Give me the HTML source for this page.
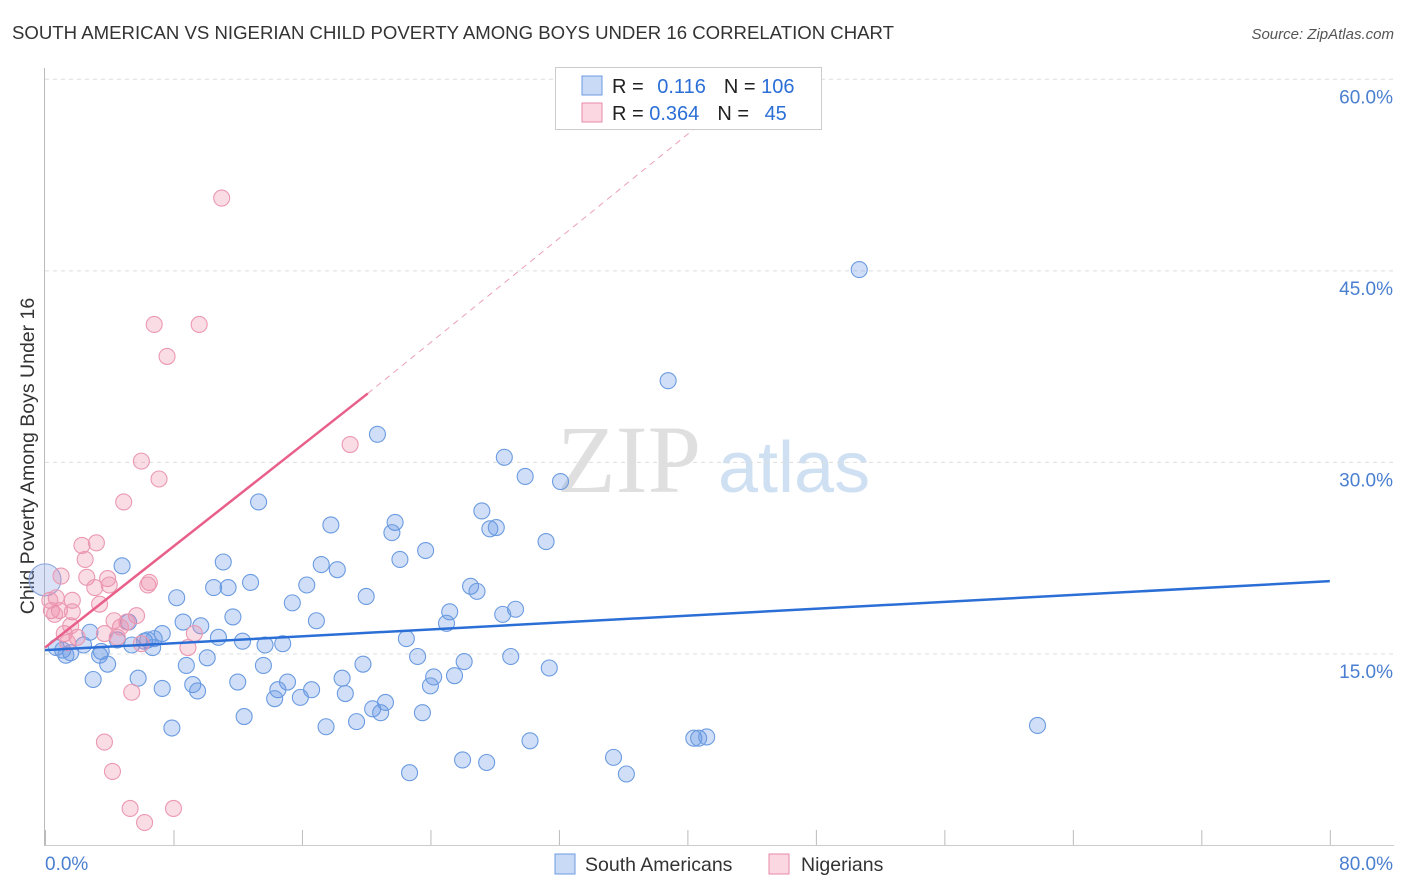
<!DOCTYPE html>
<html><head><meta charset="utf-8"><style>
body{margin:0;background:#fff;font-family:"Liberation Sans",sans-serif;}
#wrap{position:relative;width:1406px;height:892px;overflow:hidden;}
</style></head><body>
<div id="wrap">
<svg id="svg" width="1406" height="892" xmlns="http://www.w3.org/2000/svg">
<text x="12" y="39" font-size="18.6" fill="#333">SOUTH AMERICAN VS NIGERIAN CHILD POVERTY AMONG BOYS UNDER 16 CORRELATION CHART</text>
<text x="1394" y="39" font-size="15" fill="#555" font-style="italic" text-anchor="end">Source: ZipAtlas.com</text>
<text transform="translate(34,456) rotate(-90)" font-size="19.5" fill="#333" text-anchor="middle">Child Poverty Among Boys Under 16</text>
<g>
<text x="557" y="492" font-size="96" font-family="Liberation Serif,serif" fill="#dfdfdf">ZIP</text>
<text x="718" y="492" font-size="72" fill="#cfe0f3">atlas</text>
</g>
<g id="grid"></g><g id="axes"></g><g id="pts"></g><g id="lines"></g>
<g>
<rect x="555.5" y="67.5" width="266" height="62" fill="#fff" stroke="#ccc"/>
<rect x="582" y="76" width="20" height="19" fill="rgba(100,150,230,0.35)" stroke="#6b9be0"/>
<rect x="582" y="103" width="20" height="19" fill="rgba(240,140,170,0.35)" stroke="#e98aa8"/>
<text x="612" y="93" font-size="20" fill="#222">R = <tspan fill="#2b6fd6" dx="8">0.116</tspan><tspan dx="18" fill="#222">N = </tspan><tspan fill="#2b6fd6">106</tspan></text>
<text x="612" y="120" font-size="20" fill="#222">R = <tspan fill="#2b6fd6">0.364</tspan><tspan dx="18" fill="#222">N = </tspan><tspan fill="#2b6fd6" dx="10">45</tspan></text>
</g>
<g>
<rect x="555" y="854" width="20" height="20" fill="rgba(100,150,230,0.35)" stroke="#6b9be0"/>
<text x="585" y="871" font-size="19.5" fill="#333">South Americans</text>
<rect x="769" y="854" width="20" height="20" fill="rgba(240,140,170,0.35)" stroke="#e98aa8"/>
<text x="801" y="871" font-size="19.5" fill="#333">Nigerians</text>
</g>
</svg></div>
<script>
const blueX=[50.7,38.8,20.7,28.6,29.9,32.1,13.3,27.2,17.8,21.8,21.6,27.7,28.1,31.2,23.7,4.8,11.1,17.2,22.1,18.2,12.8,10.5,11.4,16.3,26.5,26.9,20.0,8.2,15.4,29.3,25.2,28.5,11.7,8.6,16.9,25.0,5.2,9.7,2.8,7.3,10.8,6.2,6.8,12.3,14.8,22.5,4.5,6.4,5.4,6.7,3.5,13.7,2.4,0.7,1.1,1.6,1.3,3.4,10.1,23.2,8.8,3.9,19.8,26.1,13.6,25.5,29.0,31.4,18.5,24.2,3.0,5.8,12.0,15.1,24.0,7.3,9.2,9.5,14.5,16.6,18.7,14.3,15.9,21.2,20.4,20.9,23.5,12.4,19.4,17.5,7.9,30.2,40.4,40.7,41.2,61.8,35.4,26.0,27.5,22.7,36.2];
const blueY=[45.1,36.4,32.2,30.4,28.9,28.5,26.9,26.2,25.1,25.3,24.5,24.8,24.9,23.8,23.1,21.9,22.2,22.0,22.4,21.6,20.6,20.2,20.2,20.4,20.3,19.9,19.5,19.4,19.0,18.5,18.3,18.1,17.9,17.5,17.6,17.4,17.5,17.2,16.7,16.6,16.3,16.0,16.2,16.0,15.8,16.2,16.1,16.1,15.7,15.5,15.2,15.7,15.7,15.5,15.3,15.1,14.9,14.9,14.7,14.8,14.1,14.2,14.2,14.4,14.1,13.3,14.8,13.9,13.1,13.2,13.0,13.1,12.8,12.8,12.5,12.3,12.6,12.1,12.2,12.2,11.9,11.5,11.6,11.2,10.7,10.4,10.4,10.1,9.7,9.3,9.2,8.2,8.4,8.4,8.5,9.4,6.9,6.7,6.5,5.7,5.6];
const pinkX=[11.0,6.8,9.6,7.6,19.0,6.0,7.1,4.9,2.3,3.2,2.5,1.0,3.9,6.5,6.4,2.6,3.1,4.0,1.7,3.4,0.7,0.3,0.4,0.9,1.7,5.7,5.1,4.3,4.7,1.6,1.2,9.3,2.0,3.7,4.5,1.4,6.0,8.9,5.4,3.7,4.2,5.3,8.0,6.2,0.6];
const pinkY=[50.7,40.8,40.8,38.3,31.4,30.1,28.7,26.9,23.5,23.7,22.4,21.1,20.9,20.6,20.4,21.0,20.2,20.4,19.2,18.9,19.4,19.2,18.4,18.4,18.3,18.0,17.5,17.6,17.1,17.2,16.6,16.6,16.3,16.6,16.3,15.9,15.8,15.5,12.0,8.1,5.8,2.9,2.9,1.8,18.1];
const bigBlue=[0.0,20.8];
const blueTrend=[[0,15.3],[80,20.7]];
const pinkTrend=[[0,15.5],[20.1,35.4]];
const pinkDash=[[20.1,35.4],[40.8,56.5]];
const yTicks=[15,30,45,60];
const yTickLabels=["15.0%","30.0%","45.0%","60.0%"];
const xTicks=[0,8,16,24,32,40,48,56,64,72,80];
const X=v=>45+v*16.06, Y=v=>845.5-v*12.77;
const NS="http://www.w3.org/2000/svg";
function mk(tag,attrs,parent){const e=document.createElementNS(NS,tag);for(const k in attrs)e.setAttribute(k,attrs[k]);document.getElementById(parent).appendChild(e);return e;}
yTicks.forEach((t,i)=>{
 const l=mk('line',{x1:45,x2:1394,y1:Y(t),y2:Y(t),stroke:'#ddd','stroke-dasharray':'4,4'},'grid');
 
 
 const tx=mk('text',{x:1393,y:Y(t)+24,'font-size':19,fill:'#4a7fd0','text-anchor':'end'},'grid');
 tx.textContent=yTickLabels[i];
 
 
});
const ax=mk('line',{x1:44.5,x2:44.5,y1:68,y2:846,stroke:'#bbb'},'axes');


const bx=mk('line',{x1:45,x2:1394,y1:845.5,y2:845.5,stroke:'#ccc'},'axes');


xTicks.forEach(t=>{const l=mk('line',{x1:X(t)+0.5,x2:X(t)+0.5,y1:830,y2:845,stroke:'#bbb'},'axes');
 
 });
const x0=mk('text',{x:45,y:870,'font-size':19,fill:'#4a7fd0'},'axes');x0.textContent='0.0%';


const x1=mk('text',{x:1393,y:870,'font-size':19,fill:'#4a7fd0','text-anchor':'end'},'axes');x1.textContent='80.0%';


blueX.forEach((v,i)=>{const c=mk('circle',{cx:X(v),cy:Y(blueY[i]),r:8,fill:'rgba(100,150,230,0.3)',stroke:'#6b9be0','stroke-width':1.1},'pts');
 
 });
const bb=mk('circle',{cx:X(bigBlue[0]),cy:Y(bigBlue[1]),r:16,fill:'rgba(130,160,225,0.3)',stroke:'#8aa5dc','stroke-width':1.1},'pts');


pinkX.forEach((v,i)=>{const c=mk('circle',{cx:X(v),cy:Y(pinkY[i]),r:8,fill:'rgba(240,140,170,0.3)',stroke:'#eb98b2','stroke-width':1.1},'pts');
 
 });
const bl=mk('line',{x1:X(blueTrend[0][0]),y1:Y(blueTrend[0][1]),x2:X(blueTrend[1][0]),y2:Y(blueTrend[1][1]),stroke:'#2b6fd6','stroke-width':2.5},'lines');


const pl=mk('line',{x1:X(pinkTrend[0][0]),y1:Y(pinkTrend[0][1]),x2:X(pinkTrend[1][0]),y2:Y(pinkTrend[1][1]),stroke:'#e8608a','stroke-width':2.5},'lines');


const pd=mk('line',{x1:X(pinkDash[0][0]),y1:Y(pinkDash[0][1]),x2:X(pinkDash[1][0]),y2:Y(pinkDash[1][1]),stroke:'#eaa0b8','stroke-width':1,'stroke-dasharray':'6,5'},'lines');


</script>
</body></html>
